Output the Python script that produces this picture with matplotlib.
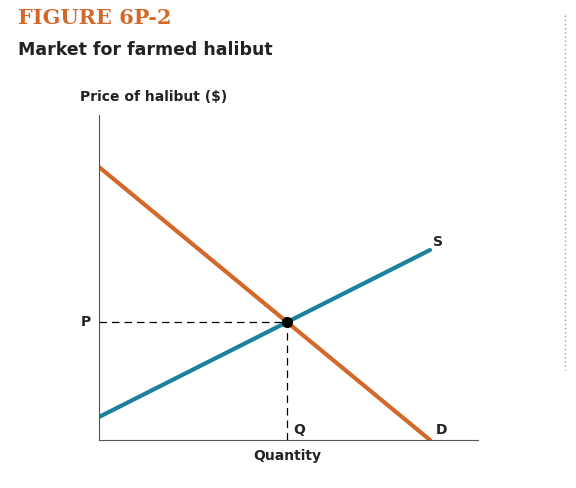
import matplotlib
matplotlib.use("Agg")
import matplotlib.pyplot as plt
from matplotlib.lines import Line2D

# demand and supply endpoints (quantity, price) in chart units
demand_q = [0, 331]
demand_p = [273, 0]
supply_q = [0, 331]
supply_p = [23, 190]
eq_q, eq_p = 188, 118

orange = "#d2692a"
blue = "#1b819c"

fig = plt.figure(figsize=(5.76, 4.88), dpi=100)
fig.patch.set_facecolor("white")
ax = fig.add_axes([99/576, 48/488, 379/576, 325/488])
ax.set_xlim(0, 379)
ax.set_ylim(0, 325)
for s in ["top", "right"]:
    ax.spines[s].set_visible(False)
ax.spines["left"].set_color("#555555")
ax.spines["bottom"].set_color("#555555")
ax.set_xticks([])
ax.set_yticks([])

ax.plot(demand_q, demand_p, color=orange, lw=3, solid_capstyle="round")
ax.plot(supply_q, supply_p, color=blue, lw=3, solid_capstyle="round")
ax.plot([0, eq_q], [eq_p, eq_p], "k--", lw=0.9, dashes=(6, 4))
ax.plot([eq_q, eq_q], [0, eq_p], "k--", lw=0.9, dashes=(6, 4))
ax.plot(eq_q, eq_p, "o", color="black", ms=7, zorder=5)

lab = dict(fontsize=10, fontweight="bold", family="DejaVu Sans", color="#222222")
ax.text(-8, eq_p, "P", ha="right", va="center", **lab)
ax.text(eq_q + 6, 10, "Q", ha="left", va="center", **lab)
ax.text(supply_q[1] + 3, supply_p[1] + 8, "S", ha="left", va="center", **lab)
ax.text(demand_q[1] + 6, 10, "D", ha="left", va="center", **lab)
ax.text(eq_q, -16, "Quantity", ha="center", va="center", **lab)

fig.text(18/576, 1 - 18/488, "FIGURE 6P-2", fontsize=15, fontweight="bold",
         family="DejaVu Serif", color=orange, va="center", ha="left")
fig.text(18/576, 1 - 50/488, "Market for farmed halibut", fontsize=12.5,
         fontweight="bold", family="DejaVu Sans", color="#222222", va="center", ha="left")
fig.text(80/576, 1 - 97/488, "Price of halibut ($)", fontsize=10,
         fontweight="bold", family="DejaVu Sans", color="#222222", va="center", ha="left")

fig.add_artist(Line2D([565/576, 565/576], [1 - 15/488, 1 - 370/488],
                      transform=fig.transFigure, color="#999999", lw=1, ls=(0, (1, 2))))

fig.savefig("out.png", dpi=100)
